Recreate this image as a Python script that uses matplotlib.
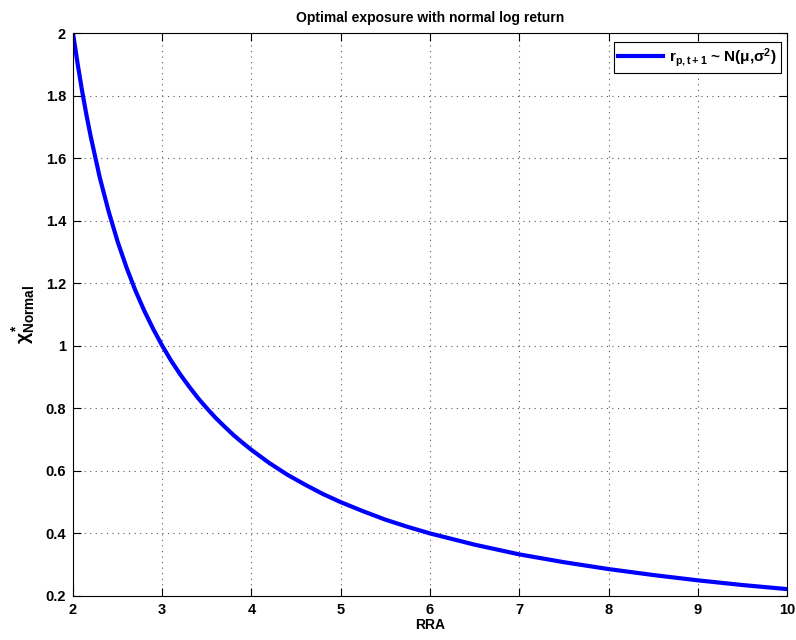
import matplotlib
matplotlib.use("Agg")
import matplotlib.pyplot as plt

plt.rcParams['font.family'] = ['Liberation Sans', 'DejaVu Sans']
plt.rcParams['font.weight'] = 'bold'
plt.rcParams['mathtext.fontset'] = 'custom'
plt.rcParams['mathtext.rm'] = 'Liberation Sans:bold'
plt.rcParams['mathtext.it'] = 'Liberation Sans:bold'
plt.rcParams['mathtext.bf'] = 'Liberation Sans:bold'
plt.rcParams['mathtext.sf'] = 'Liberation Sans:bold'

# Data
rra = [2.0, 2.05, 2.1, 2.15, 2.2, 2.3, 2.4, 2.5, 2.6, 2.7, 2.8, 2.9, 3.0,
       3.1, 3.2, 3.3, 3.4, 3.5, 3.6, 3.7, 3.8, 3.9, 4.0, 4.2, 4.4, 4.6, 4.8, 5.0,
       5.25, 5.5, 5.75, 6.0, 6.5, 7.0, 7.5, 8.0, 8.5, 9.0, 9.5, 10.0]
exposure = [2.000, 1.905, 1.818, 1.739, 1.667, 1.538, 1.429, 1.333, 1.250, 1.176, 1.111, 1.053, 1.000,
            0.952, 0.909, 0.870, 0.833, 0.800, 0.769, 0.741, 0.714, 0.690, 0.667, 0.625, 0.588, 0.556, 0.526, 0.500,
            0.471, 0.444, 0.421, 0.400, 0.364, 0.333, 0.308, 0.286, 0.267, 0.250, 0.235, 0.222]
xticks = [2, 3, 4, 5, 6, 7, 8, 9, 10]
yticks = [0.2, 0.4, 0.6, 0.8, 1.0, 1.2, 1.4, 1.6, 1.8, 2.0]
yticklabels = ['0.2', '0.4', '0.6', '0.8', '1', '1.2', '1.4', '1.6', '1.8', '2']

fig = plt.figure(figsize=(7.96, 6.4), dpi=100)
ax = fig.add_axes([0.0917, 0.0688, 0.897, 0.8796])

ax.plot(rra, exposure, color='#0000ff', lw=3, solid_joinstyle='round',
        label=r'$\mathregular{r_{p,t+1}}$ ~ N($\mathregular{\mu}$,$\mathregular{\sigma^2}$)')

ax.set_xlim(2, 10)
ax.set_ylim(0.2, 2)
ax.set_xticks(xticks)
ax.set_xticklabels([str(t) for t in xticks])
ax.set_yticks(yticks)
ax.set_yticklabels(yticklabels)
ax.tick_params(direction='in', length=6, width=0.8, labelsize=10.5, top=True, right=True, pad=5)
for lab in ax.get_xticklabels() + ax.get_yticklabels():
    lab.set_fontweight('bold')

ax.grid(True, color='0.35', linestyle=(0, (1, 4)), linewidth=0.8)
for s in ax.spines.values():
    s.set_linewidth(0.8)

ax.set_title('Optimal exposure with normal log return', fontsize=10, fontweight='bold', pad=8)
ax.set_xlabel('RRA', fontsize=10, fontweight='bold', labelpad=1)
ax.set_ylabel(r'$\chi^{*}_{\mathregular{Normal}}$', fontsize=14, fontweight='bold', labelpad=6)

leg = ax.legend(loc='upper right', fontsize=11, frameon=True, fancybox=False,
                edgecolor='black', framealpha=1, handlelength=3.0, handletextpad=0.4,
                borderpad=0.25, borderaxespad=0.0, bbox_to_anchor=(0.9916, 0.984))
leg.get_frame().set_linewidth(0.8)
for t in leg.get_texts():
    t.set_fontweight('bold')

fig.savefig('out.png', dpi=100)
